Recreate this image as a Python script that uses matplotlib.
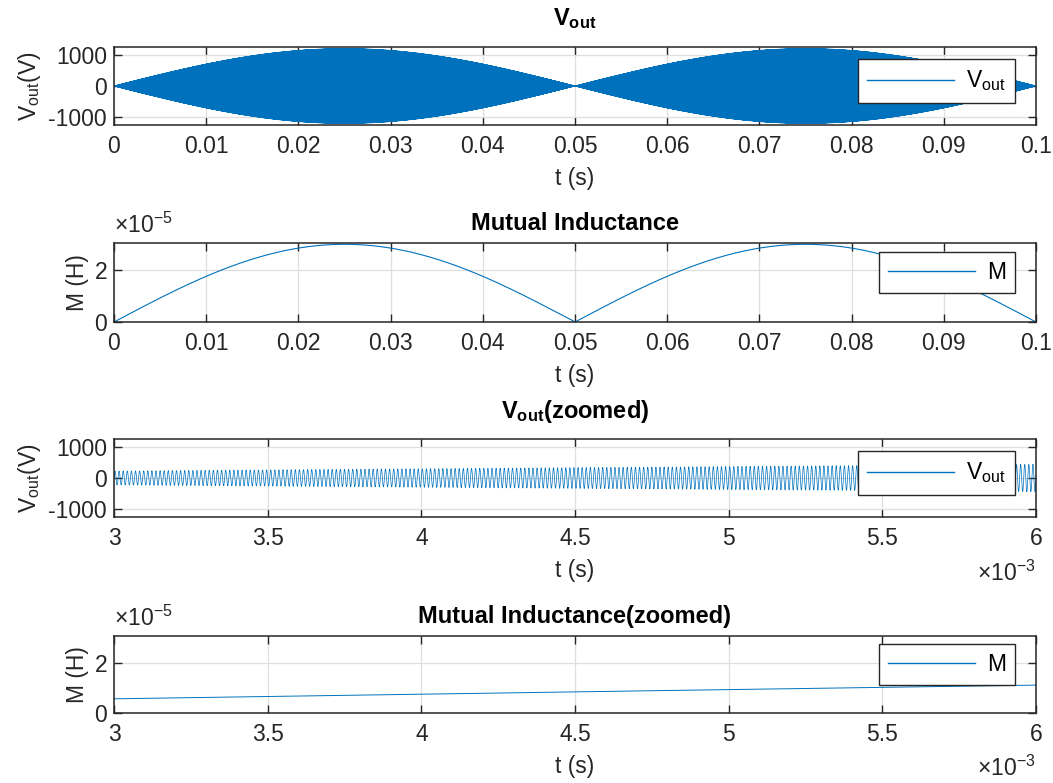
import numpy as np
import matplotlib
matplotlib.use('Agg')
import matplotlib.pyplot as plt
from matplotlib.ticker import FuncFormatter

plt.rcParams['font.family'] = ['Liberation Sans', 'DejaVu Sans']
plt.rcParams['mathtext.fontset'] = 'custom'
plt.rcParams['mathtext.rm'] = 'Liberation Sans'
plt.rcParams['mathtext.it'] = 'Liberation Sans'
plt.rcParams['mathtext.bf'] = 'Liberation Sans:bold'

# Signal parameters
t_start, t_end = 0.0, 0.1          # s
zoom_start, zoom_end = 3e-3, 6e-3   # s
v_peak = 1220.0                     # V, envelope maximum
m_peak = 3.0e-5                     # H, maximum mutual inductance
mod_freq = 10.0                     # Hz, |sin| envelope (zeros at 0, 0.05, 0.1 s)
carrier_freq = 75e3                 # Hz, counted in the zoomed panel
dt = 1e-6

titles = [r'$\mathbf{V_{out}}$', 'Mutual Inductance',
          r'$\mathbf{V_{out}}$(zoomed)', 'Mutual Inductance(zoomed)']
ylabels = [r'V$_{\mathrm{out}}$(V)', 'M (H)', r'V$_{\mathrm{out}}$(V)', 'M (H)']
legend_labels = [r'V$_{\mathrm{out}}$', 'M', r'V$_{\mathrm{out}}$', 'M']
v_ylim = [-1270, 1270]
m_ylim = [0, 3.05e-5]
v_yticks = [-1000, 0, 1000]
m_yticks = [0, 2e-5]
full_xticks = [0, 0.01, 0.02, 0.03, 0.04, 0.05, 0.06, 0.07, 0.08, 0.09, 0.1]
zoom_xticks = [3e-3, 3.5e-3, 4e-3, 4.5e-3, 5e-3, 5.5e-3, 6e-3]

t = np.arange(t_start, t_end + dt / 2, dt)
envelope = np.abs(np.sin(2 * np.pi * mod_freq * t))
M = m_peak * envelope
Vout = v_peak * envelope * np.sin(2 * np.pi * carrier_freq * t)
zmask = (t >= zoom_start) & (t <= zoom_end)

W, H = 1053, 783
fig = plt.figure(figsize=(W / 100, H / 100), dpi=100)

# axes boxes in pixels: (top, bottom)
boxes = [(47, 125), (243, 322), (439, 517), (636, 713)]
left_px, right_px = 114, 1036
legend_y = [0.564, 0.627, 0.564, 0.627]
title_pad = [16, 9, 15, 9]

blue = '#0072BD'
dark = '#262626'
fs = 16.5
tfs = 17

for k, (top, bot) in enumerate(boxes):
    ax = fig.add_axes([left_px / W, 1 - bot / H, (right_px - left_px) / W, (bot - top) / H])
    zoomed = k >= 2
    if k % 2 == 0:
        if zoomed:
            ax.plot(t[zmask], Vout[zmask], color=blue, lw=0.5, label=legend_labels[k])
        else:
            ax.plot(t, Vout, color=blue, lw=0.5, label=legend_labels[k])
        ax.set_ylim(v_ylim)
        ax.set_yticks(v_yticks)
        ax.yaxis.set_major_formatter(FuncFormatter(lambda v, p: '%g' % v))
    else:
        if zoomed:
            ax.plot(t[zmask], M[zmask], color=blue, lw=0.7, label=legend_labels[k])
        else:
            ax.plot(t, M, color=blue, lw=0.8, label=legend_labels[k])
        ax.set_ylim(m_ylim)
        ax.set_yticks(m_yticks)
        ax.yaxis.set_major_formatter(FuncFormatter(lambda v, p: '%g' % (v * 1e5)))
        ax.text(0, 1.07, r'$\times$10$^{-5}$', transform=ax.transAxes,
                fontsize=fs, color=dark, ha='left', va='bottom')

    if zoomed:
        ax.set_xlim(zoom_start, zoom_end)
        ax.set_xticks(zoom_xticks)
        ax.xaxis.set_major_formatter(FuncFormatter(lambda v, p: '%g' % round(v * 1e3, 6)))
        ax.text(1.0, -0.56, r'$\times$10$^{-3}$', transform=ax.transAxes,
                fontsize=fs, color=dark, ha='right', va='top')
    else:
        ax.set_xlim(t_start, t_end)
        ax.set_xticks(full_xticks)
        ax.xaxis.set_major_formatter(FuncFormatter(lambda v, p: '%g' % round(v, 6)))

    ax.set_title(titles[k], fontsize=tfs, fontweight='bold', color='black', pad=title_pad[k])
    ax.set_xlabel('t (s)', fontsize=fs, color=dark, labelpad=7)
    ax.set_ylabel(ylabels[k], fontsize=fs, color=dark, labelpad=4)

    ax.grid(True, color='#dfdfdf', linewidth=0.9)
    ax.set_axisbelow(True)
    ax.tick_params(direction='in', length=6, width=1, colors=dark, labelsize=fs,
                   top=True, right=True)
    ax.tick_params(axis='x', pad=7)
    ax.tick_params(axis='y', pad=5)
    for s in ax.spines.values():
        s.set_color(dark)
        s.set_linewidth(1.1)

    leg = ax.legend(loc='center right', bbox_to_anchor=(0.977, legend_y[k]),
                    fontsize=fs, handlelength=3.8, handletextpad=0.5,
                    borderpad=0.4, borderaxespad=0, frameon=True, fancybox=False,
                    framealpha=1)
    leg.get_frame().set_edgecolor(dark)
    leg.get_frame().set_linewidth(1.0)
    for line in leg.get_lines():
        line.set_linewidth(1.0)

fig.savefig('out.png', dpi=100, facecolor='white')
